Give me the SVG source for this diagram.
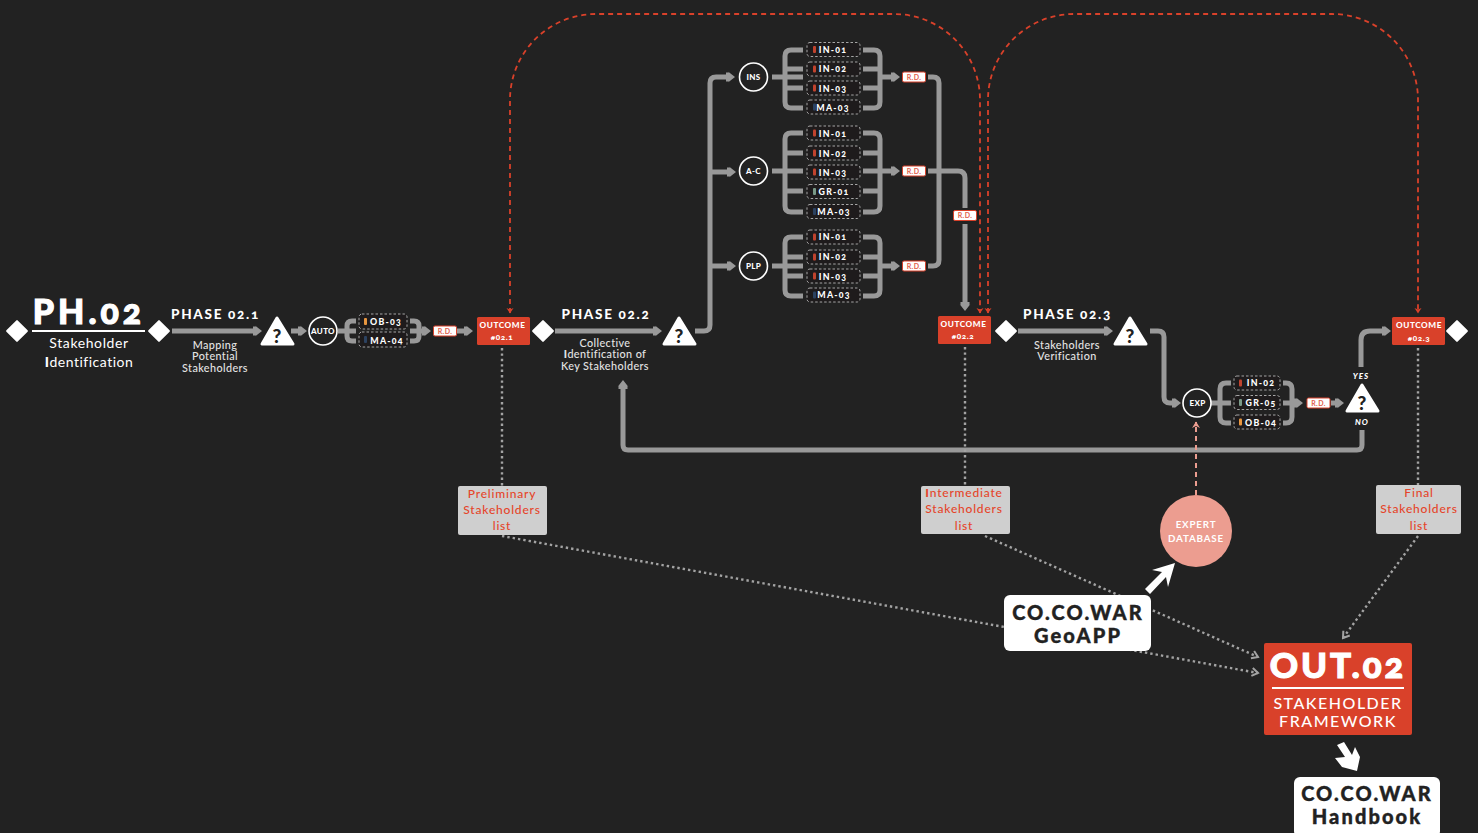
<svg xmlns="http://www.w3.org/2000/svg" width="1478" height="833" viewBox="0 0 1478 833">
<style>
text{font-family:"Lato","Open Sans","Liberation Sans",sans-serif;text-anchor:middle;fill:#fff;font-variant-numeric:oldstyle-nums}
.g{fill:none;stroke:#999;stroke-width:5;stroke-linejoin:round}
.red{fill:none;stroke:#d9412a;stroke-width:1.8;stroke-dasharray:5 4}
.pink{fill:none;stroke:#ec9d90;stroke-width:2;stroke-dasharray:5 4}
.dot{fill:none;stroke:#a3a3a3;stroke-width:2.4;stroke-dasharray:2.4 3}
.d{fill:#fff;stroke:#fff;stroke-width:2;stroke-linejoin:round}
.t{fill:#fff;stroke:#fff;stroke-width:3;stroke-linejoin:round}
.q{fill:#222;font-size:19px;font-weight:900}
.c{fill:#222;stroke:#fff;stroke-width:1.6}
.cl{font-size:8px;font-weight:900;letter-spacing:.3px}
.chip{fill:#1e1b1c;stroke:#b5b5b5;stroke-width:.9;stroke-dasharray:2.5 2}
.cht{font-size:8.8px;font-weight:900;letter-spacing:1.2px}
.rd{fill:#fff;stroke:#d9412a;stroke-width:1}
.rdt{fill:#e2604c;font-size:7px;font-weight:700;letter-spacing:.4px}
.o{fill:#d9412a}
.ot{font-size:8.2px;font-weight:900;letter-spacing:.6px}
.h{font-size:13.500px;font-weight:900;letter-spacing:1.700px}
.s{fill:#e4e4e4;font-size:10.800px;font-weight:500;letter-spacing:.4px}
.gb{fill:#cfcfcf}
.gt{fill:#e5452a;font-size:12px;font-weight:500;letter-spacing:.8px}
.wb{fill:#fff}
.wt{fill:#222;font-size:20px;font-weight:900;letter-spacing:2.1px;stroke:#222;stroke-width:.4}
.yn{font-size:8px;font-weight:900;font-style:italic;letter-spacing:1px}
.b{fill:#fff;stroke:none}
.big{font-weight:900;stroke:#fff;stroke-width:1.100}
.r{fill:#c0432e}.or{fill:#e8963f}.bl{fill:#2c4260}.gr{fill:#7a9a88}
</style>
<defs>
<marker id="ag" markerUnits="userSpaceOnUse" markerWidth="12" markerHeight="14" viewBox="0 0 12 14" refX="1" refY="7" orient="auto"><path d="M0,2.500 L3,2.500 L2,1.500 L9,7 L2,12.500 L3,11.500 L0,11.500Z" fill="#999"/></marker>
<marker id="ar" markerUnits="userSpaceOnUse" markerWidth="8" markerHeight="8" viewBox="0 0 8 8" refX="6" refY="4" orient="auto-start-reverse"><path d="M1,.5 L6.500,4 L1,7.500 L2.500,4Z" fill="#d9412a"/></marker>
<marker id="ap" markerUnits="userSpaceOnUse" markerWidth="9" markerHeight="9" viewBox="0 0 9 9" refX="7" refY="4.500" orient="auto"><path d="M1,.5 L7.500,4.500 L1,8.500 L3,4.500Z" fill="#ec9d90"/></marker>
<marker id="ad" markerUnits="userSpaceOnUse" markerWidth="10" markerHeight="10" viewBox="0 0 10 10" refX="8" refY="5" orient="auto"><path d="M2,1 L8,5 L2,9" fill="none" stroke="#a3a3a3" stroke-width="2"/></marker>
</defs>
<rect width="1478" height="833" fill="#222"/>

<g id="connectors">
<path class="red" marker-start="url(#ar)" marker-end="url(#ar)" d="M510,313 V100 A86,86 0 0 1 596,14 H894 A86,86 0 0 1 980,100 V313"/>
<path class="red" marker-start="url(#ar)" marker-end="url(#ar)" d="M988,313 V100 A86,86 0 0 1 1074,14 H1332 A86,86 0 0 1 1418,100 V313"/>
<path class="g" marker-end="url(#ag)" d="M172,331 H254"/>
<path class="g" marker-end="url(#ag)" d="M291,331 H299"/>
<path class="g" d="M338,331 H356 M356,321 H352 Q347,321 347,326 V336 Q347,341 352,341 H356"/>
<path class="g" marker-end="url(#ag)" d="M410,331 H423"/>
<path class="g" d="M410,321 H414 Q419,321 419,326 V336 Q419,341 414,341 H410"/>
<path class="g" marker-end="url(#ag)" d="M457,331 H465"/>
<path class="g" marker-end="url(#ag)" d="M555,331 H654"/>
<path class="g" marker-end="url(#ag)" d="M695,331 H704 Q710,331 710,325 V83 Q710,77 716,77 H727"/>
<path class="g" marker-end="url(#ag)" d="M710,172 H728"/>
<path class="g" marker-end="url(#ag)" d="M710,266 H728"/>
<path class="g" d="M772,77 H803 M803,50 H791 Q785,50 785,56 V102 Q785,108 791,108 H803 M785,69 H803 M785,88 H803"/>
<path class="g" d="M863,50 H874 Q880,50 880,56 V102 Q880,108 874,108 H863 M863,69 H880 M863,88 H880"/>
<path class="g" marker-end="url(#ag)" d="M880,77 H892"/>
<path class="g" d="M772,171 H803 M803,133 H791 Q785,133 785,139 V206 Q785,212 791,212 H803 M785,153 H803 M785,191 H803"/>
<path class="g" d="M863,133 H874 Q880,133 880,139 V206 Q880,212 874,212 H863 M863,153 H880 M863,191 H880"/>
<path class="g" marker-end="url(#ag)" d="M863,171 H892"/>
<path class="g" d="M772,266 H803 M803,237 H791 Q785,237 785,243 V290 Q785,296 791,296 H803 M785,257 H803 M785,276 H803"/>
<path class="g" d="M863,237 H874 Q880,237 880,243 V290 Q880,296 874,296 H863 M863,257 H880 M863,276 H880"/>
<path class="g" marker-end="url(#ag)" d="M880,266 H892"/>
<path class="g" d="M928,77 H933 Q939,77 939,83 V260 Q939,266 933,266 H928"/>
<path class="g" d="M928,171 H958 Q965,171 965,178 V208"/>
<path class="g" marker-end="url(#ag)" d="M965,224 V303"/>
<path class="g" marker-end="url(#ag)" d="M1018,331 H1105"/>
<path class="g" marker-end="url(#ag)" d="M1150,331 H1158 Q1164,331 1164,337 V397 Q1164,403 1170,403 H1173"/>
<path class="g" d="M1211,403 H1231 M1231,383 H1226 Q1220,383 1220,389 V417 Q1220,423 1226,423 H1231"/>
<path class="g" d="M1283,383 H1286 Q1292,383 1292,389 V417 Q1292,423 1286,423 H1283"/>
<path class="g" marker-end="url(#ag)" d="M1283,403 H1295"/>
<path class="g" marker-end="url(#ag)" d="M1331,403 H1336"/>
<path class="g" marker-end="url(#ag)" d="M1361,367 V340 Q1361,331 1370,331 H1383"/>
<path class="g" marker-end="url(#ag)" d="M1362,430 V445 Q1362,450 1357,450 H628 Q623,450 623,445 V388"/>
<path class="pink" marker-end="url(#ap)" d="M1196,495 V422"/>
<path class="dot" d="M502,348 V486"/>
<path class="dot" d="M965,347 V486"/>
<path class="dot" d="M1418,348 V485"/>
<path class="dot" marker-end="url(#ad)" d="M502,536 L1258,673"/>
<path class="dot" marker-end="url(#ad)" d="M985,536 L1258,657"/>
<path class="dot" marker-end="url(#ad)" d="M1418,536 L1343,638"/>
</g>

<g id="ph02">
<rect class="d" x="10" y="324" width="14" height="14" transform="rotate(45 17 331)"/>
<text class="big" x="89" y="324" font-size="34" letter-spacing="4">PH.02</text>
<rect class="b" x="32" y="330" width="113" height="2"/>
<text x="89" y="348" font-size="14" letter-spacing=".6">Stakeholder</text>
<text x="89" y="367" font-size="14" letter-spacing=".5"><tspan font-weight="900">I</tspan>dentification</text>
</g>
<g id="start021"><rect class="d" x="152" y="324" width="14" height="14" transform="rotate(45 159 331)"/></g>
<g id="phase021">
<text class="h" x="215.500" y="319">PHASE 02.1</text>
<text class="s" x="215" y="349">Mapping</text><text class="s" x="215" y="360">Potential</text><text class="s" x="215" y="372">Stakeholders</text>
</g>
<g id="q1"><polygon class="t" points="277,318 262,344 293,344"/><text class="q" x="277" y="343">?</text></g>
<g id="auto"><circle class="c" cx="323" cy="331" r="14"/><text class="cl" x="323" y="334">AUTO</text></g>
<g id="chips021">
<rect class="chip" x="359" y="314" width="48" height="15" rx="3"/><rect class="or" x="364" y="318" width="3" height="7" rx="1"/><text class="cht" x="386" y="325">OB-03</text>
<rect class="chip" x="359" y="332" width="48" height="15" rx="3"/><rect class="bl" x="364" y="336" width="3" height="7" rx="1"/><text class="cht" x="387" y="343.500">MA-04</text>
</g>
<g id="rd021"><rect class="rd" x="433.500" y="326" width="23" height="10" rx="1.500"/><text class="rdt" x="445" y="333.500">R.D.</text></g>
<g id="outcome021">
<rect class="o" x="477" y="317" width="53" height="28" rx="1.500"/>
<text class="ot" x="502.500" y="328">OUTCOME</text><text class="ot" x="502" y="340">#02.1</text>
</g>
<g id="start022"><rect class="d" x="536" y="324" width="14" height="14" transform="rotate(45 543 331)"/></g>
<g id="phase022">
<text class="h" x="606" y="319">PHASE 02.2</text>
<text class="s" x="605" y="347">Collective</text><text class="s" x="605" y="358"><tspan font-weight="900">I</tspan>dentification of</text><text class="s" x="605" y="370">Key Stakeholders</text>
</g>
<g id="q2"><polygon class="t" points="679,318 664,344 695,344"/><text class="q" x="679" y="343">?</text></g>

<g id="ins"><circle class="c" cx="753.500" cy="77" r="14"/><text class="cl" x="753.500" y="80">INS</text></g>
<g id="ac"><circle class="c" cx="753.500" cy="171" r="14"/><text class="cl" x="753.500" y="174">A-C</text></g>
<g id="plp"><circle class="c" cx="753.500" cy="266" r="14"/><text class="cl" x="753.500" y="269">PLP</text></g>

<g id="chipsins">
<rect class="chip" x="807" y="42.500" width="53" height="14" rx="3"/><rect class="r" x="813" y="46" width="3" height="7" rx="1"/><text class="cht" x="833" y="53">IN-01</text>
<rect class="chip" x="807" y="62" width="53" height="14" rx="3"/><rect class="r" x="813" y="65.500" width="3" height="7" rx="1"/><text class="cht" x="833" y="72">IN-02</text>
<rect class="chip" x="807" y="81" width="53" height="14" rx="3"/><rect class="r" x="813" y="84.500" width="3" height="7" rx="1"/><text class="cht" x="833" y="91.500">IN-03</text>
<rect class="chip" x="807" y="100" width="53" height="14" rx="3"/><rect class="bl" x="813" y="103.500" width="3" height="7" rx="1"/><text class="cht" x="833" y="110.500">MA-03</text>
</g>
<g id="chipsac">
<rect class="chip" x="807" y="126" width="53" height="14" rx="3"/><rect class="r" x="813" y="129.500" width="3" height="7" rx="1"/><text class="cht" x="833" y="136.500">IN-01</text>
<rect class="chip" x="807" y="146" width="53" height="14" rx="3"/><rect class="r" x="813" y="149.500" width="3" height="7" rx="1"/><text class="cht" x="833" y="156.500">IN-02</text>
<rect class="chip" x="807" y="165" width="53" height="14" rx="3"/><rect class="r" x="813" y="168.500" width="3" height="7" rx="1"/><text class="cht" x="833" y="175.500">IN-03</text>
<rect class="chip" x="807" y="184.500" width="53" height="14" rx="3"/><rect class="gr" x="813" y="188" width="3" height="7" rx="1"/><text class="cht" x="834" y="195">GR-01</text>
<rect class="chip" x="807" y="204.500" width="53" height="14" rx="3"/><rect class="bl" x="813" y="208" width="3" height="7" rx="1"/><text class="cht" x="834" y="215">MA-03</text>
</g>
<g id="chipsplp">
<rect class="chip" x="807" y="230" width="53" height="14" rx="3"/><rect class="r" x="813" y="233.500" width="3" height="7" rx="1"/><text class="cht" x="833" y="240">IN-01</text>
<rect class="chip" x="807" y="250" width="53" height="14" rx="3"/><rect class="r" x="813" y="253.500" width="3" height="7" rx="1"/><text class="cht" x="833" y="260">IN-02</text>
<rect class="chip" x="807" y="269" width="53" height="14" rx="3"/><rect class="r" x="813" y="272.500" width="3" height="7" rx="1"/><text class="cht" x="833" y="279.500">IN-03</text>
<rect class="chip" x="807" y="288" width="53" height="14" rx="3"/><rect class="bl" x="813" y="291.500" width="3" height="7" rx="1"/><text class="cht" x="834" y="298">MA-03</text>
</g>
<g id="rdins"><rect class="rd" x="902.500" y="72" width="23" height="10" rx="1.500"/><text class="rdt" x="914" y="79.500">R.D.</text></g>
<g id="rdac"><rect class="rd" x="902.500" y="166" width="23" height="10" rx="1.500"/><text class="rdt" x="914" y="173.500">R.D.</text></g>
<g id="rdplp"><rect class="rd" x="902.500" y="261" width="23" height="10" rx="1.500"/><text class="rdt" x="914" y="268.500">R.D.</text></g>
<g id="rdall"><rect class="rd" x="953.500" y="210.500" width="23" height="10" rx="1.500"/><text class="rdt" x="965" y="218">R.D.</text></g>

<g id="outcome022">
<rect class="o" x="938" y="316" width="53" height="28" rx="1.500"/>
<text class="ot" x="963.500" y="327">OUTCOME</text><text class="ot" x="963" y="339">#02.2</text>
</g>
<g id="start023"><rect class="d" x="999" y="324" width="14" height="14" transform="rotate(45 1006 331)"/></g>
<g id="phase023">
<text class="h" x="1067.500" y="319">PHASE 02.3</text>
<text class="s" x="1067" y="349">Stakeholders</text><text class="s" x="1067" y="360">Verification</text>
</g>
<g id="q3"><polygon class="t" points="1130,318 1115,344 1146,344"/><text class="q" x="1130" y="343">?</text></g>
<g id="exp"><circle class="c" cx="1197" cy="403" r="14"/><text class="cl" x="1197.500" y="406">EXP</text></g>
<g id="chips023">
<rect class="chip" x="1234" y="376" width="46" height="14" rx="3"/><rect class="r" x="1239" y="379.500" width="3" height="7" rx="1"/><text class="cht" x="1261" y="386">IN-02</text>
<rect class="chip" x="1234" y="395.500" width="46" height="14" rx="3"/><rect class="gr" x="1239" y="399" width="3" height="7" rx="1"/><text class="cht" x="1261" y="406">GR-05</text>
<rect class="chip" x="1234" y="415" width="46" height="14" rx="3"/><rect class="or" x="1239" y="418.500" width="3" height="7" rx="1"/><text class="cht" x="1261" y="425.500">OB-04</text>
</g>
<g id="rd023"><rect class="rd" x="1307" y="398" width="23" height="10" rx="1.500"/><text class="rdt" x="1318.500" y="405.500">R.D.</text></g>
<g id="q4">
<polygon class="t" points="1362,385 1347,411 1378,411"/><text class="q" x="1362" y="410">?</text>
<text class="yn" x="1361" y="379">YES</text><text class="yn" x="1362" y="424.500">NO</text>
</g>
<g id="outcome023">
<rect class="o" x="1392" y="317" width="53" height="28" rx="1.500"/>
<text class="ot" x="1419" y="328">OUTCOME</text><text class="ot" x="1419" y="341">#02.3</text>
</g>
<g id="end"><rect class="d" x="1450" y="324" width="14" height="14" transform="rotate(45 1457 331)"/></g>

<g id="list1"><rect class="gb" x="458" y="486" width="89" height="49" rx="2"/><text class="gt" x="502" y="498">Preliminary</text><text class="gt" x="502" y="514">Stakeholders</text><text class="gt" x="502" y="530">list</text></g>
<g id="list2"><rect class="gb" x="921" y="486" width="89" height="48" rx="2"/><text class="gt" x="964" y="497"><tspan font-weight="900">I</tspan>ntermediate</text><text class="gt" x="964" y="513">Stakeholders</text><text class="gt" x="964" y="530">list</text></g>
<g id="list3"><rect class="gb" x="1376" y="485" width="85" height="49" rx="2"/><text class="gt" x="1419" y="497">Final</text><text class="gt" x="1419" y="513">Stakeholders</text><text class="gt" x="1419" y="530">list</text></g>

<g id="expert">
<circle cx="1196" cy="531" r="36" fill="#ec9d90"/>
<text x="1196" y="528" font-size="9.800" font-weight="700" letter-spacing=".8">EXPERT</text>
<text x="1196" y="542" font-size="9.800" font-weight="700" letter-spacing=".8">DATABASE</text>
</g>
<g id="geoapp">
<rect class="wb" x="1004" y="595" width="147" height="56" rx="6"/>
<text class="wt" x="1078" y="620">CO.CO.WAR</text><text class="wt" x="1078" y="643">GeoAPP</text>
<path class="b" d="M1145,589 L1162,572 L1152,570 L1175,563 L1168,587 L1166,577 L1150,594Z"/>
</g>
<g id="out02">
<rect class="o" x="1264" y="643" width="148" height="92" rx="2"/>
<text class="big" x="1338" y="678" font-size="35" letter-spacing="2.800">OUT.02</text>
<rect class="b" x="1272" y="687" width="132" height="2"/>
<text x="1338" y="709" font-size="16" font-weight="500" letter-spacing="1.500">STAKEHOLDER</text>
<text x="1338" y="727" font-size="16" font-weight="500" letter-spacing="1.500">FRAMEWORK</text>
<path class="b" d="M1337,745 L1344,742 L1352,755 L1355,747 L1360,757 L1357,771 L1342,767 L1335,758 L1345,757Z"/>
</g>
<g id="handbook">
<rect class="wb" x="1294" y="777" width="146" height="60" rx="6"/>
<text class="wt" x="1367" y="801">CO.CO.WAR</text><text class="wt" x="1367" y="824">Handbook</text>
</g>
</svg>
